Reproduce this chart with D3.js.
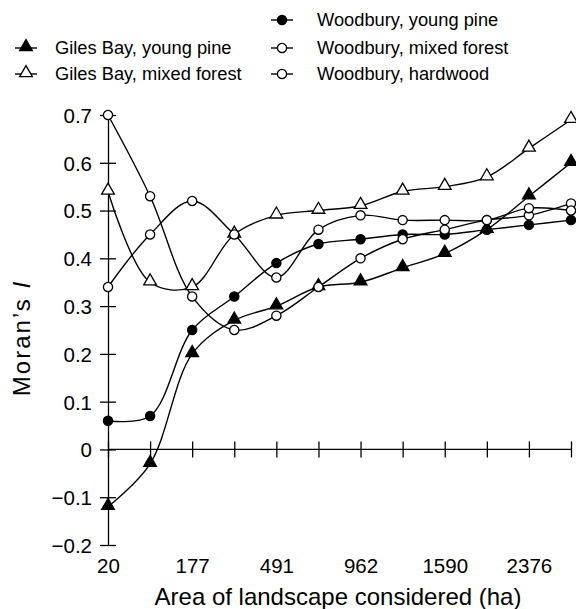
<!DOCTYPE html>
<html>
<head>
<meta charset="utf-8">
<script src="https://cdn.jsdelivr.net/npm/d3@7"></script>
<style>
  body { margin: 0; background: #fff; }
  svg { font-family: "Liberation Sans", Arial, sans-serif; }
</style>
</head>
<body>
<div class="main"></div>
<script>
// area of landscape (ha); only every other one is labelled
var areas = [20, 79, 177, 314, 491, 707, 962, 1257, 1590, 1963, 2376, 2827];
var yTicks = [-0.2, -0.1, 0, 0.1, 0.2, 0.3, 0.4, 0.5, 0.6, 0.7];

var gilesYoungPine   = [-0.12, -0.03, 0.20, 0.27, 0.30, 0.34, 0.35, 0.38, 0.41, 0.46, 0.53, 0.60];
var gilesMixed       = [0.54, 0.35, 0.34, 0.45, 0.49, 0.50, 0.51, 0.54, 0.55, 0.57, 0.63, 0.69];
var woodYoungPine    = [0.06, 0.07, 0.25, 0.32, 0.39, 0.43, 0.44, 0.45, 0.45, 0.46, 0.47, 0.48];
var woodMixed        = [0.70, 0.53, 0.32, 0.25, 0.28, 0.34, 0.40, 0.44, 0.46, 0.48, 0.49, 0.515];
var woodHardwood     = [0.34, 0.45, 0.52, 0.45, 0.36, 0.46, 0.49, 0.48, 0.48, 0.48, 0.505, 0.50];

var series = [
    {key: "Woodbury, young pine",    values: woodYoungPine, mark: "circle",   fill: "#000"},
    {key: "Giles Bay, young pine",   values: gilesYoungPine, mark: "triangle", fill: "#000"},
    {key: "Woodbury, mixed forest",  values: woodMixed,     mark: "circle",   fill: "#fff"},
    {key: "Giles Bay, mixed forest", values: gilesMixed,    mark: "triangle", fill: "#fff"},
    {key: "Woodbury, hardwood",      values: woodHardwood,  mark: "circle",   fill: "#fff"}
];

var svg = d3.select(".main").append("svg")
    .attr("width", 576)
    .attr("height", 609);

var x = d3.scalePoint().domain(areas).range([108, 571]);
var y = d3.scaleLinear().domain([-0.2, 0.7]).range([545, 115]);

var line = d3.line()
    .x(function(d, i) { return x(areas[i]); })
    .y(function(d) { return y(d); })
    .curve(d3.curveCatmullRom);

var tri = d3.symbol().type(d3.symbolTriangle).size(70);

function drawMark(g, s) {
    if (s.mark == "circle") {
        g.append("circle").attr("r", 4.6)
            .attr("fill", s.fill).attr("stroke", "#000").attr("stroke-width", 1.3);
    } else {
        g.append("path").attr("d", tri).attr("transform", "translate(0,-1)")
            .attr("fill", s.fill).attr("stroke", "#000").attr("stroke-width", 1.3);
    }
}

// y axis, ticks cross the line
var yAxis = svg.append("g")
    .attr("transform", "translate(108,0)")
    .call(d3.axisLeft(y).tickValues(yTicks).tickSize(0).tickPadding(16)
        .tickFormat(function(d) { return d == 0 ? "0" : d3.format(".1f")(d).replace("-", "\u2212"); }));
yAxis.selectAll(".tick line").attr("x1", -8).attr("x2", 8);
yAxis.selectAll("text").attr("font-size", 20.5).attr("dy", "0.36em");

// x axis along y = 0
var xAxis = svg.append("g")
    .attr("transform", "translate(0," + y(0) + ")")
    .call(d3.axisBottom(x).tickSize(0).tickFormat(""));
xAxis.select(".domain").attr("d", "M108,0H571");
xAxis.selectAll(".tick line").attr("y1", -8).attr("y2", 8);

svg.selectAll(".domain, .tick line").attr("stroke", "#000").attr("stroke-width", 1.3);

// x labels below the plot
var xLab = svg.append("g")
    .attr("transform", "translate(0,545)")
    .call(d3.axisBottom(x).tickSize(0).tickPadding(13)
        .tickFormat(function(d, i) { return i % 2 == 0 ? d : ""; }));
xLab.select(".domain").remove();
xLab.selectAll("text").attr("font-size", 20.5);

svg.selectAll(".tick text").attr("fill", "#000").attr("font-family", "Liberation Sans, Arial, sans-serif");

svg.append("text")
    .attr("x", 338).attr("y", 605)
    .attr("text-anchor", "middle")
    .attr("font-size", 24)
    .text("Area of landscape considered (ha)");

var yTitle = svg.append("text")
    .attr("transform", "translate(30,338) rotate(-90)")
    .attr("text-anchor", "middle")
    .attr("font-size", 24)
    .attr("letter-spacing", 2);
yTitle.append("tspan").text("Moran\u2019s ");
yTitle.append("tspan").attr("font-style", "italic").text("I");

// lines and marks
series.forEach(function(s) {
    svg.append("path")
        .datum(s.values)
        .attr("d", line)
        .attr("fill", "none")
        .attr("stroke", "#000")
        .attr("stroke-width", 1.4);
});
series.forEach(function(s) {
    s.values.forEach(function(v, i) {
        var g = svg.append("g").attr("transform", "translate(" + x(areas[i]) + "," + y(v) + ")");
        drawMark(g, s);
    });
});

// legend
var legendPos = [[282, 20], [26, 48], [282, 48], [26, 74], [282, 74]];
series.forEach(function(s, i) {
    var p = legendPos[i];
    var g = svg.append("g").attr("transform", "translate(" + p[0] + "," + p[1] + ")");
    g.append("line").attr("x1", -11).attr("x2", 11)
        .attr("stroke", "#000").attr("stroke-width", 1.4);
    drawMark(g, s);
    g.append("text").attr("x", p[0] > 100 ? 35 : 29).attr("dy", "0.35em")
        .attr("font-size", 18.3).text(s.key);
});
</script>
</body>
</html>
